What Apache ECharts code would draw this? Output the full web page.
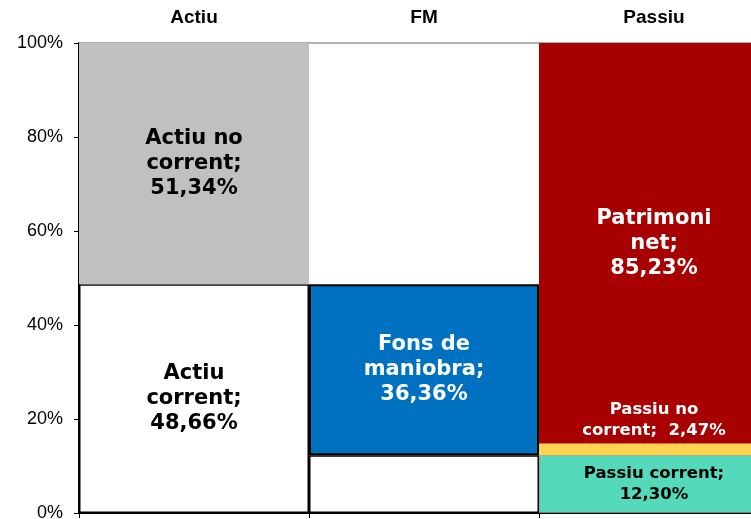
<!DOCTYPE html>
<html>
<head>
<meta charset="utf-8">
<script src="https://cdn.jsdelivr.net/npm/echarts@6/dist/echarts.min.js"></script>
<style>
  html, body { margin: 0; padding: 0; background: #fff; }
  #chart { width: 751px; height: 519px; }
</style>
</head>
<body>
<div id="chart"></div>
<script>
    // categories (top axis)
    var categories = ['Actiu', 'FM', 'Passiu'];
    var yTicks = [0, 20, 40, 60, 80, 100];

    // stacked layers, bottom to top
    var layer1 = [48.66, 12.30, 12.30];
    var layer2 = [51.34, 36.36, 2.47];
    var layer3 = [null, null, 85.23];

    var layer1Names = ['Actiu\ncorrent;', '', 'Passiu corrent;'];
    var layer2Names = ['Actiu no\ncorrent;', 'Fons de\nmaniobra;', 'Passiu no\ncorrent; '];
    var layer3Names = ['', '', 'Patrimoni\nnet;'];

    var fmt = function (v) {
        return v.toFixed(2).replace('.', ',') + '%';
    };

    var bigLabel = {
        show: true,
        overflow: 'none',
        fontFamily: 'DejaVu Sans',
        fontWeight: 'bold',
        fontSize: 21,
        lineHeight: 25
    };
    var smallLabel = {
        show: true,
        overflow: 'none',
        fontFamily: 'DejaVu Sans',
        fontWeight: 'bold',
        fontSize: 16.5,
        lineHeight: 21
    };

    var build = function (values, names, styles) {
        return values.map(function (v, i) {
            if (v === null) {
                return '-';
            }
            var s = styles[i];
            return {
                value: v,
                itemStyle: s.item,
                label: Object.assign({}, s.label, {
                    formatter: names[i] ? names[i] + (names[i].slice(-1) === ' ' ? ' ' : '\n') + fmt(v) : ''
                })
            };
        });
    };

    var layer1Styles = [
        {item: {color: '#ffffff', borderColor: '#000', borderWidth: 1.5}, label: Object.assign({}, bigLabel, {color: '#000'})},
        {item: {color: '#ffffff', borderColor: '#000', borderWidth: 1.5}, label: {show: false}},
        {item: {color: '#55D9BB', borderColor: '#8a8a8a', borderWidth: 0.8}, label: Object.assign({}, smallLabel, {color: '#000'})}
    ];
    var layer2Styles = [
        {item: {color: '#C0C0C0', borderWidth: 0}, label: Object.assign({}, bigLabel, {color: '#000'})},
        {item: {color: '#0070C0', borderColor: '#000', borderWidth: 2}, label: Object.assign({}, bigLabel, {color: '#fff'})},
        {item: {color: '#FFD24F', borderWidth: 0}, label: Object.assign({}, smallLabel, {color: '#fff', position: 'top', distance: 2})}
    ];
    var layer3Styles = [
        {item: {}, label: {show: false}},
        {item: {}, label: {show: false}},
        {item: {color: '#A80000', borderWidth: 0}, label: Object.assign({}, bigLabel, {color: '#fff'})}
    ];

    var myChart = echarts.init(document.getElementById('chart'), null, {renderer: 'canvas'});
    var option = {
        animation: false,
        backgroundColor: '#fff',
        grid: {
            left: 79,
            width: 690,
            top: 43,
            bottom: 6,
            outerBoundsMode: 'none',
            containLabel: false
        },
        xAxis: [{
            // 底部坐标轴，只画刻度
            type: 'category',
            data: categories,
            position: 'bottom',
            axisLine: {lineStyle: {color: '#000', width: 2}},
            axisTick: {show: true, length: 5, lineStyle: {color: '#000', width: 1}},
            axisLabel: {show: false}
        }, {
            // 顶部坐标轴，显示类别名
            type: 'category',
            data: categories,
            position: 'top',
            axisLine: {lineStyle: {color: '#999', width: 1.5}},
            axisTick: {show: false},
            axisLabel: {
                margin: 16,
                color: '#000',
                fontFamily: 'Liberation Sans',
                fontWeight: 'bold',
                fontSize: 19
            }
        }],
        yAxis: {
            type: 'value',
            min: yTicks[0],
            max: yTicks[yTicks.length - 1],
            interval: 20,
            splitLine: {show: false},
            axisLine: {show: true, lineStyle: {color: '#000', width: 2}},
            axisTick: {show: true, length: 5, lineStyle: {color: '#000'}},
            axisLabel: {
                margin: 16,
                color: '#000',
                fontFamily: 'Liberation Sans',
                fontSize: 18,
                formatter: '{value}%'
            }
        },
        series: [{
            type: 'bar',
            stack: 'total',
            barWidth: '100%',
            barCategoryGap: 0,
            data: build(layer1, layer1Names, layer1Styles)
        }, {
            type: 'bar',
            stack: 'total',
            barWidth: '100%',
            data: build(layer2, layer2Names, layer2Styles)
        }, {
            type: 'bar',
            stack: 'total',
            barWidth: '100%',
            data: build(layer3, layer3Names, layer3Styles)
        }]
    };
    myChart.setOption(option);
</script>
</body>
</html>
